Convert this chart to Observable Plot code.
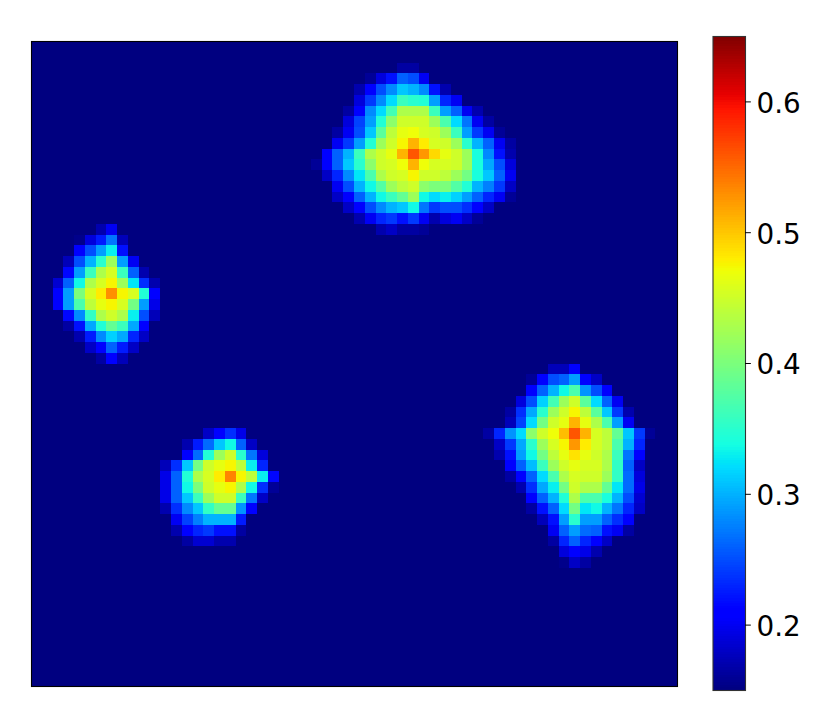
<!DOCTYPE html>
<html>
<head>
<meta charset="utf-8">
<script src="https://cdn.jsdelivr.net/npm/d3@7"></script>
<script src="https://cdn.jsdelivr.net/npm/@observablehq/plot@0.6"></script>
<style>
html,body{margin:0;padding:0;background:#fff}
#chart{position:relative;width:830px;height:727px;overflow:hidden}
#chart svg{position:absolute;top:0;max-width:none;background:transparent}
</style>
</head>
<body>
<div id="chart"></div>
<script>
const gridSize = 60;
const background = 0.15;
const colorDomain = [0.15, 0.65];
const colorTicks = [0.2, 0.3, 0.4, 0.5, 0.6];

// each row: [column of the first cell, ...cell values]
const topBlobFirstRow = 2;
const topBlob = [
  [34,.165,.165],
  [31,.16,.19,.22,.26,.25,.2],
  [30,.17,.205,.25,.28,.31,.30,.28,.22,.17],
  [30,.19,.24,.28,.32,.36,.35,.345,.29,.23,.2],
  [29,.165,.21,.28,.32,.365,.43,.43,.43,.36,.29,.26,.2,.17],
  [29,.19,.245,.29,.345,.41,.45,.45,.45,.42,.37,.32,.27,.2,.165],
  [28,.165,.2,.25,.31,.38,.44,.465,.47,.455,.45,.42,.36,.29,.24,.2,.16],
  [28,.2,.24,.29,.345,.42,.45,.475,.51,.48,.455,.45,.42,.35,.30,.26,.2,.165],
  [27,.205,.26,.30,.36,.43,.45,.465,.51,.56,.525,.49,.465,.45,.42,.34,.28,.22,.17],
  [26,.16,.205,.26,.31,.35,.41,.45,.455,.47,.51,.47,.455,.455,.45,.42,.34,.295,.25,.19],
  [27,.18,.23,.28,.325,.37,.43,.45,.455,.475,.45,.45,.44,.42,.395,.34,.31,.26,.2],
  [28,.2,.25,.3,.335,.375,.42,.44,.45,.41,.4,.4,.375,.345,.3,.275,.24,.18],
  [28,.18,.21,.26,.3,.335,.36,.385,.42,.335,.32,.33,.315,.29,.26,.23,.2,.16],
  [29,.18,.21,.25,.28,.3,.31,.335,.27,.24,.25,.25,.235,.21,.18],
  [30,.17,.2,.23,.24,.22,.24,.2,.17,.19,.2,.18,.16],
  [32,.17,.18,.165,.165,.16]
];

const leftBlobFirstRow = 17;
const leftBlob = [
  [6,.17,.2],
  [4,.155,.19,.225,.27,.175],
  [4,.205,.25,.29,.33,.22],
  [3,.175,.25,.3,.35,.42,.29,.2],
  [3,.215,.29,.36,.43,.455,.36,.26,.17],
  [2,.185,.26,.335,.43,.455,.475,.42,.325,.235,.17],
  [2,.205,.29,.4,.455,.48,.53,.475,.455,.345,.21],
  [2,.205,.29,.37,.44,.465,.475,.455,.395,.29,.195],
  [3,.215,.28,.355,.43,.45,.43,.33,.25,.175],
  [3,.165,.22,.295,.345,.385,.36,.295,.205],
  [4,.17,.225,.28,.315,.295,.23,.18],
  [5,.18,.21,.26,.225,.18],
  [6,.165,.205,.175]
];

const lowerBlobFirstRow = 36;
const lowerBlob = [
  [16,.18,.21,.235,.195],
  [14,.17,.225,.265,.31,.335,.26,.18],
  [14,.205,.265,.345,.42,.45,.35,.27,.19],
  [12,.175,.235,.31,.395,.45,.465,.475,.44,.33,.23],
  [12,.195,.26,.345,.43,.455,.48,.535,.475,.44,.33,.215],
  [12,.195,.26,.335,.4,.45,.465,.475,.43,.335,.235,.16],
  [12,.195,.26,.31,.36,.42,.45,.45,.36,.27,.18],
  [12,.17,.235,.28,.31,.355,.385,.385,.285,.205],
  [13,.2,.245,.275,.30,.30,.30,.225],
  [13,.17,.205,.23,.24,.22,.22,.165],
  [14,.165,.185,.185,.17,.17]
];

const rightBlobFirstRow = 30;
const rightBlob = [
  [48,.175,.175,.205],
  [46,.16,.205,.25,.26,.29,.21,.18],
  [46,.205,.26,.3,.335,.37,.285,.25,.205],
  [45,.19,.25,.315,.365,.42,.45,.38,.32,.26,.2],
  [44,.165,.235,.295,.35,.42,.45,.475,.44,.38,.31,.24,.17],
  [44,.175,.245,.32,.395,.45,.465,.51,.465,.43,.37,.29,.2],
  [42,.165,.23,.285,.32,.41,.45,.47,.505,.56,.51,.455,.44,.385,.31,.24,.16],
  [43,.18,.24,.295,.35,.42,.455,.475,.525,.48,.455,.44,.37,.3,.23],
  [43,.17,.22,.29,.335,.395,.44,.465,.485,.465,.45,.43,.36,.27,.205],
  [44,.205,.26,.305,.36,.42,.45,.465,.455,.455,.43,.355,.26,.18],
  [44,.165,.21,.26,.32,.37,.43,.455,.45,.45,.42,.355,.265,.19],
  [45,.17,.235,.295,.33,.395,.45,.43,.43,.385,.325,.265,.195],
  [46,.21,.26,.3,.345,.43,.37,.37,.34,.3,.25,.185],
  [46,.165,.22,.26,.32,.395,.325,.335,.3,.27,.23,.18],
  [47,.175,.22,.29,.35,.29,.29,.26,.235,.205],
  [48,.2,.26,.29,.265,.26,.22,.2,.165],
  [48,.165,.23,.26,.23,.21,.18],
  [49,.19,.205,.195,.17],
  [49,.155,.18,.165]
];

// matplotlib's jet colormap
const stops = (pts, t) => {
  for (let i = 1; i < pts.length; i++) {
    if (t <= pts[i][0]) {
      const [a, va] = pts[i - 1], [b, vb] = pts[i];
      return va + (vb - va) * (t - a) / (b - a);
    }
  }
  return pts[pts.length - 1][1];
};
const redStops = [[0,0],[.35,0],[.66,1],[.89,1],[1,.5]];
const greenStops = [[0,0],[.125,0],[.375,1],[.64,1],[.91,0],[1,0]];
const blueStops = [[0,.5],[.11,1],[.34,1],[.65,0],[1,0]];
const jet = (t) => {
  const c = p => Math.round(255 * stops(p, Math.max(0, Math.min(1, t))));
  return `rgb(${c(redStops)},${c(greenStops)},${c(blueStops)})`;
};
const color = {type: "linear", domain: colorDomain, interpolate: jet, clamp: true};

const grid = d3.range(gridSize).map(() => new Array(gridSize).fill(background));
[[topBlob, topBlobFirstRow], [leftBlob, leftBlobFirstRow],
 [lowerBlob, lowerBlobFirstRow], [rightBlob, rightBlobFirstRow]].forEach(([rows, first]) => {
  rows.forEach(([col, ...vals], r) => vals.forEach((v, i) => { grid[first + r][col + i] = v; }));
});
const cells = grid.flatMap((row, r) => row.map((v, c) => ({r, c, v})));

const main = Plot.plot({
  width: 700, height: 727,
  marginLeft: 31, marginRight: 23, marginTop: 41, marginBottom: 41,
  x: {domain: [0, gridSize], axis: null},
  y: {domain: [gridSize, 0], axis: null},
  color,
  marks: [
    Plot.rect(cells, {x1: "c", x2: d => d.c + 1, y1: "r", y2: d => d.r + 1, fill: "v", shapeRendering: "crispEdges"}),
    Plot.frame({stroke: "black", strokeWidth: 1.1})
  ]
});
main.style.left = "0px";

const levels = d3.range(256).map(i => ({
  y1: colorDomain[0] + (colorDomain[1] - colorDomain[0]) * i / 256,
  y2: colorDomain[0] + (colorDomain[1] - colorDomain[0]) * (i + 1) / 256
}));
const bar = Plot.plot({
  width: 130, height: 727,
  marginLeft: 12.5, marginRight: 85, marginTop: 36, marginBottom: 37,
  style: {fontFamily: "DejaVu Sans", fontSize: "27.8px", color: "black"},
  x: {domain: [0, 1], axis: null},
  y: {domain: colorDomain, axis: null},
  color,
  marks: [
    Plot.rect(levels, {x1: 0, x2: 1, y1: "y1", y2: "y2", fill: d => (d.y1 + d.y2) / 2, shapeRendering: "crispEdges"}),
    Plot.frame({stroke: "#333", strokeWidth: 1.1}),
    Plot.ruleY(colorTicks, {x1: 1, x2: 1.18, stroke: "black"}),
    Plot.text(colorTicks, {x: 1, y: d => d, text: d => d.toFixed(1), textAnchor: "start", dx: 11, dy: 2, fill: "black", fontSize: 27.8, fontFamily: "DejaVu Sans", clip: false})
  ]
});
bar.style.left = "700px";

document.getElementById("chart").append(main, bar);
</script>
</body>
</html>
